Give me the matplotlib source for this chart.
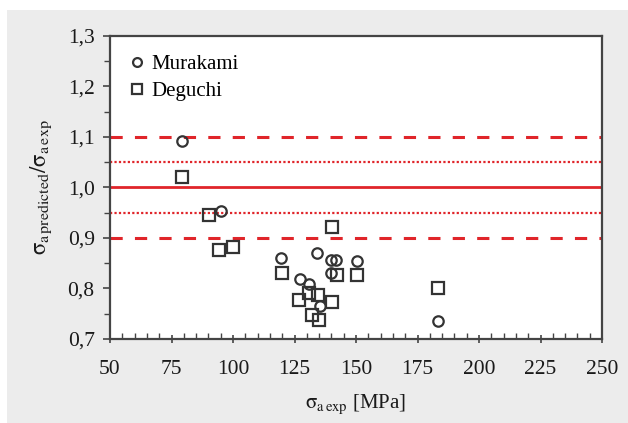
import matplotlib
matplotlib.use('Agg')
import matplotlib.pyplot as plt
from matplotlib.patches import Rectangle
from matplotlib.ticker import MultipleLocator, FuncFormatter

plt.rcParams['font.family'] = ['Liberation Serif', 'DejaVu Serif']
plt.rcParams['mathtext.fontset'] = 'stix'

# Murakami data (sigma_a exp [MPa], predicted/exp ratio)
murakami_x = [79.3, 95.0, 119.5, 134.0, 139.8, 141.9, 150.5, 127.2, 131.0, 139.8, 135.4, 183.3]
murakami_y = [1.092, 0.954, 0.860, 0.870, 0.857, 0.856, 0.854, 0.818, 0.809, 0.830, 0.765, 0.736]

# Deguchi data
deguchi_x = [79.4, 90.4, 94.4, 100.1, 140.1, 119.8, 127.0, 131.0, 134.7, 140.1, 132.0, 135.1, 142.2, 150.5, 183.3]
deguchi_y = [1.021, 0.946, 0.877, 0.883, 0.921, 0.830, 0.777, 0.791, 0.788, 0.774, 0.748, 0.738, 0.826, 0.826, 0.800]

band_solid = 1.0
band_dotted = [0.95, 1.05]
band_dashed = [0.9, 1.1]

fig = plt.figure(figsize=(6.28, 4.23), dpi=100, facecolor='white')
# grey panel behind the chart
fig.patches.append(Rectangle((7 / 628, 0), 1 - 7 / 628, (423 - 10) / 423,
                             transform=fig.transFigure, facecolor='#ececec',
                             edgecolor='none', zorder=-10))

ax = fig.add_axes([110 / 628, 1 - 339 / 423, (602 - 110) / 628, (339 - 36) / 423])
ax.set_facecolor('white')

red = '#e0252a'
ax.axhline(band_solid, color=red, lw=2.0, zorder=1)
for v in band_dotted:
    ax.axhline(v, color=red, lw=1.6, ls=(0, (1, 1)), zorder=1)
for v in band_dashed:
    ax.axhline(v, color=red, lw=2.2, ls=(0, (4, 4)), zorder=1)

ax.plot(murakami_x, murakami_y, 'o', ms=7.5, mfc='none', mec='#333333', mew=1.6,
        label='Murakami', zorder=3)
ax.plot(deguchi_x, deguchi_y, 's', ms=8, mfc='none', mec='#333333', mew=1.6,
        label='Deguchi', zorder=3)

ax.set_xlim(50, 250)
ax.set_ylim(0.7, 1.3)
ax.xaxis.set_major_locator(MultipleLocator(25))
ax.xaxis.set_minor_locator(MultipleLocator(5))
ax.yaxis.set_major_locator(MultipleLocator(0.1))
ax.yaxis.set_minor_locator(MultipleLocator(0.05))
ax.yaxis.set_major_formatter(FuncFormatter(lambda v, p: f'{v:.1f}'.replace('.', ',')))

for s in ax.spines.values():
    s.set_color('#444444')
    s.set_linewidth(1.6)

ax.tick_params(axis='x', which='major', direction='inout', length=6, width=1.2,
               color='#444444', labelsize=15.5, pad=12)
ax.tick_params(axis='x', which='minor', direction='in', length=4, width=1.0, color='#444444')
ax.tick_params(axis='y', which='major', direction='out', length=5, width=1.2,
               color='#444444', labelsize=15.5, pad=6)
ax.tick_params(axis='y', which='minor', direction='out', length=4, width=1.0, color='#444444')
for lbl in ax.get_xticklabels() + ax.get_yticklabels():
    lbl.set_color('#1a1a1a')

ax.set_xlabel(r'$\mathrm{\sigma_{a\,exp}}$ [MPa]', fontsize=15, color='#1a1a1a', labelpad=10)
ax.set_ylabel(r'$\mathrm{\sigma_{a\,predicted}/\sigma_{a\,exp}}$', fontsize=16.5,
              color='#1a1a1a', labelpad=10)

ax.legend(loc='upper left', frameon=False, fontsize=15, handletextpad=0.3,
          handlelength=0.8, borderaxespad=0.5, labelspacing=0.35, markerscale=0.85)

fig.savefig('out.png', dpi=100, facecolor=fig.get_facecolor())
